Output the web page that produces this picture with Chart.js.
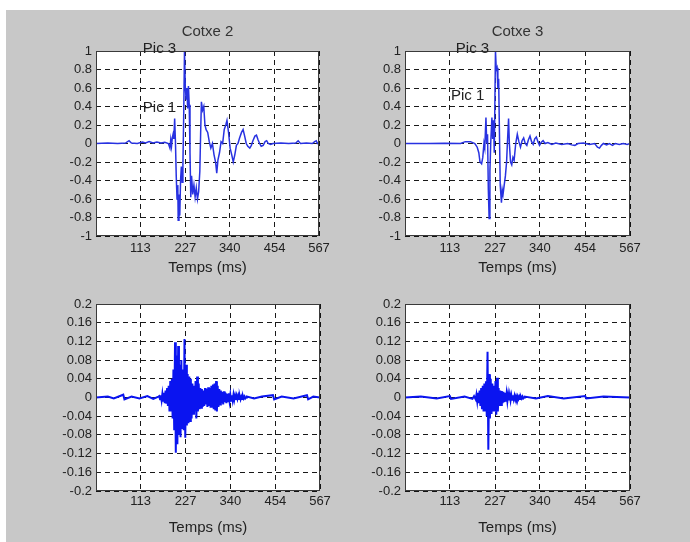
<!DOCTYPE html>
<html>
<head>
<meta charset="utf-8">
<script src="https://cdn.jsdelivr.net/npm/chart.js@4.4.1/dist/chart.umd.min.js"></script>
<style>
  html, body { margin: 0; padding: 0; background: #fff; }
  #fig { position: relative; width: 690px; height: 542px; overflow: hidden; }
  #bg { position: absolute; left: 6px; top: 10px; right: 0; bottom: 0; background: #c8c8c8; }
  canvas { position: absolute; }
</style>
</head>
<body>
<div id="fig">
  <div id="bg"></div>
  <canvas id="c2top" width="345" height="270" style="left:0;top:10px"></canvas>
  <canvas id="c3top" width="345" height="270" style="left:345px;top:10px"></canvas>
  <canvas id="c2bot" width="345" height="262" style="left:0;top:280px"></canvas>
  <canvas id="c3bot" width="345" height="262" style="left:345px;top:280px"></canvas>
</div>
<script>
// axis ticks
const xTicks = [113, 227, 340, 454, 567];
const yTicksSignal = [-1, -0.8, -0.6, -0.4, -0.2, 0, 0.2, 0.4, 0.6, 0.8, 1];
const yTicksDetail = [-0.2, -0.16, -0.12, -0.08, -0.04, 0, 0.04, 0.08, 0.12, 0.16, 0.2];

// Cotxe 2, upper plot: [temps ms, amplitude]
const cotxe2Signal = [
  [0,0],[30,0.005],[55,0],[75,0.005],[84,0.03],[90,0.005],[105,0],[118,0.015],[126,0.005],
  [135,0.02],[145,0.005],[155,0.015],[165,0.005],[175,0.012],[184,0],[188,-0.05],[190,0.04],
  [192,-0.03],[194,0.06],[196,0.1],[198,0.05],[200,0.27],[202,0.02],[204,-0.35],[206,-0.6],
  [208,-0.45],[209,-0.83],[211,-0.55],[213,-0.78],[215,-0.4],[217,-0.25],[219,-0.42],[221,-0.23],
  [223,0.3],[225,1.0],[227,0.62],[229,0.48],[231,0.6],[233,0.38],[235,0.62],[237,0.42],[239,-0.1],
  [241,-0.58],[243,-0.35],[246,-0.55],[249,-0.45],[252,-0.58],[255,-0.48],[258,-0.6],[261,-0.52],
  [264,-0.3],[266,0.1],[268,0.45],[271,0.36],[274,0.4],[277,0.2],[280,0.15],[284,0.12],[288,0.02],
  [292,-0.05],[296,0.0],[300,-0.12],[304,-0.2],[307,-0.32],[310,-0.18],[314,-0.1],[318,0.02],
  [322,0.0],[326,0.15],[330,0.2],[333,0.25],[337,0.12],[341,-0.05],[345,-0.12],[349,-0.2],
  [353,-0.12],[357,-0.02],[361,0.0],[365,0.06],[370,0.12],[374,0.15],[378,0.08],[382,0.0],
  [386,-0.03],[391,-0.05],[395,-0.02],[399,0.03],[404,0.08],[408,0.09],[412,0.04],[416,0.0],
  [420,-0.03],[425,-0.02],[430,0.02],[434,0.03],[438,0.0],[444,-0.01],[450,0.0],[470,0.005],
  [490,0],[508,0.005],[514,0.03],[520,0.0],[535,0.005],[550,0],[556,0.02],[560,0.03],[563,0.0],
  [567,0.005]
];

// Cotxe 3, upper plot
const cotxe3Signal = [
  [0,0],[60,0],[100,0.003],[140,0],[152,0.02],[165,0.02],[176,0.0],[182,-0.04],[186,-0.1],
  [189,-0.2],[193,-0.22],[196,-0.15],[199,0.0],[201,-0.05],[204,0.28],[206,0.0],[208,0.1],
  [210,-0.5],[212,-0.81],[214,-0.3],[216,0.0],[219,0.28],[221,0.05],[223,0.25],[225,-0.1],
  [228,1.0],[230,0.8],[232,0.82],[234,0.6],[236,0.7],[238,0.12],[240,-0.45],[243,-0.64],
  [245,-0.5],[247,-0.55],[250,-0.45],[253,-0.35],[256,-0.2],[258,0.0],[261,0.27],[263,0.0],
  [266,-0.2],[269,-0.23],[272,-0.15],[275,-0.18],[279,0.0],[283,0.1],[287,0.02],[291,-0.04],
  [295,0.03],[299,0.06],[303,0.0],[307,-0.02],[311,0.04],[315,0.08],[319,0.02],[323,-0.01],
  [327,0.05],[331,0.07],[335,0.02],[339,-0.02],[343,0.01],[348,0.03],[353,0.0],[360,0.01],
  [370,-0.01],[380,0.005],[395,-0.01],[410,0.0],[420,-0.015],[428,-0.02],[436,0.0],[450,0.005],
  [465,-0.01],[478,0.0],[485,-0.04],[490,-0.05],[495,-0.02],[500,0.0],[508,-0.015],[515,0.0],
  [523,-0.02],[530,0.0],[540,-0.01],[550,0.0],[560,-0.01],[567,0]
];

// Cotxe 2, lower plot: quiet parts + burst sampled every 2 ms from 160 ms
const cotxe2DetailBefore = [
  [0,0],[30,0.002],[45,-0.002],[69,0.006],[72,-0.004],[90,0.002],[110,-0.002],[130,0.003],
  [145,-0.003],[158,0.002]
];
const cotxe2BurstStart = 160;
const cotxe2Burst = [
  0.003,-0.004,0.005,-0.006,0.008,-0.007,0.01,-0.012,0.015,-0.013,
  0.02,-0.018,0.025,-0.03,0.035,-0.028,0.04,-0.045,0.06,-0.07,
  0.118,-0.118,0.09,-0.1,0.11,-0.08,0.07,-0.085,0.08,-0.065,
  0.06,-0.07,0.125,-0.086,0.07,-0.06,0.05,-0.055,0.045,-0.05,
  0.04,-0.045,0.03,-0.035,0.025,-0.03,0.035,-0.045,0.045,-0.03,
  0.03,-0.025,0.02,-0.022,0.018,-0.02,0.015,-0.018,0.02,-0.015,
  0.018,-0.02,0.022,-0.018,0.02,-0.022,0.025,-0.02,0.028,-0.025,
  0.03,-0.028,0.035,-0.03,0.025,-0.02,0.018,-0.015,0.015,-0.012,
  0.012,-0.015,0.013,-0.01,0.01,-0.012,0.008,-0.01,0.009,-0.007,
  0.006,-0.007,0.005,-0.006,0.006,-0.005,0.004,-0.005,0.004,-0.003,
  0.004,-0.003,0.003,-0.004,0.002,-0.003,0.003,-0.002,0.002,-0.002,
  0
];
const cotxe2DetailAfter = [
  [382,0.002],[400,-0.002],[420,0.002],[448,0.005],[451,-0.004],[470,0.002],[500,-0.002],
  [534,0.005],[537,-0.004],[550,0.002],[567,0]
];

// Cotxe 3, lower plot
const cotxe3DetailBefore = [
  [0,0],[40,0.002],[80,-0.002],[113,0.003],[116,-0.003],[150,0.002],[170,-0.003],[174,0.003]
];
const cotxe3BurstStart = 176;
const cotxe3Burst = [
  0.003,-0.004,0.006,-0.008,0.01,-0.012,0.015,-0.018,0.02,-0.025,
  0.025,-0.03,0.03,-0.028,0.035,-0.04,0.098,-0.112,0.05,-0.045,
  0.04,-0.035,0.03,-0.028,0.025,-0.03,0.035,-0.037,0.042,-0.03,
  0.02,-0.018,0.015,-0.016,0.014,-0.012,0.012,-0.01,0.01,-0.009,
  0.008,-0.008,0.007,-0.006,0.006,-0.006,0.005,-0.005,0.005,-0.004,
  0.004,-0.004,0.003,-0.003,0.003,-0.003,0.002,-0.003,0.002,-0.002,
  0.002,-0.002,0
];
const cotxe3DetailAfter = [
  [302,0.002],[330,-0.002],[360,0.003],[400,-0.002],[454,0.003],[457,-0.002],[500,0.002],[567,0]
];

// peak labels [text, temps, amplitude]
const cotxe2Notes = [['Pic 3', 119, 1.02], ['Pic 1', 119, 0.38]];
const cotxe3Notes = [['Pic 3', 128, 1.02], ['Pic 1', 116, 0.51]];

const FONT = '"Liberation Sans", Arial, Helvetica, sans-serif';
const BURST_STEP = 2;

function pairs(list) {
  return list.map(p => ({ x: p[0], y: p[1] }));
}

function burstPoints(start, values) {
  return values.map((v, i) => ({ x: start + i * BURST_STEP, y: v }));
}

const figureBox = {
  id: 'figureBox',
  beforeDraw(chart) {
    const { ctx, chartArea: a } = chart;
    ctx.save();
    ctx.fillStyle = '#fff';
    ctx.fillRect(a.left, a.top, a.right - a.left, a.bottom - a.top);
    ctx.restore();
  },
  afterDraw(chart, args, opts) {
    const { ctx, chartArea: a, scales } = chart;
    ctx.save();
    ctx.strokeStyle = '#3a3a3a';
    ctx.lineWidth = 1;
    ctx.strokeRect(a.left + 0.5, a.top + 0.5, a.right - a.left - 1, a.bottom - a.top - 1);
    ctx.font = '15px ' + FONT;
    ctx.fillStyle = '#222';
    ctx.textAlign = 'left';
    ctx.textBaseline = 'middle';
    (opts.notes || []).forEach(n => {
      ctx.fillText(n[0], scales.x.getPixelForValue(n[1]), scales.y.getPixelForValue(n[2]));
    });
    ctx.restore();
  }
};

function makeChart(id, cfg) {
  return new Chart(document.getElementById(id), {
    type: 'line',
    data: {
      datasets: [{
        data: cfg.points,
        borderColor: cfg.color,
        borderWidth: cfg.lineWidth,
        pointRadius: 0,
        tension: 0,
        fill: false
      }]
    },
    options: {
      responsive: false,
      animation: false,
      events: [],
      layout: { padding: { left: 0, right: cfg.padRight, top: cfg.padTop, bottom: 0 } },
      plugins: {
        legend: { display: false },
        tooltip: { enabled: false },
        title: cfg.title ? {
          display: true,
          fullSize: false,
          text: cfg.title,
          color: '#333',
          font: { family: FONT, size: 15, weight: 'normal' },
          padding: { top: 13, bottom: 10 }
        } : { display: false },
        figureBox: { notes: cfg.notes }
      },
      scales: {
        x: {
          type: 'linear',
          min: 0,
          max: 567,
          afterBuildTicks: s => { s.ticks = xTicks.map(v => ({ value: v })); },
          afterFit: s => { s.height = cfg.xHeight; },
          ticks: {
            color: '#222',
            font: { family: FONT, size: 13 },
            padding: cfg.xTickPad,
            maxRotation: 0,
            autoSkip: false,
            callback: v => String(v)
          },
          grid: { color: 'rgba(0,0,0,0.9)', lineWidth: 1, drawTicks: false },
          border: { display: false, dash: [5, 4] },
          title: {
            display: true,
            text: 'Temps (ms)',
            color: '#222',
            font: { family: FONT, size: 15 },
            padding: { top: 0, bottom: cfg.xTitlePad }
          }
        },
        y: {
          min: cfg.yTicks[0],
          max: cfg.yTicks[cfg.yTicks.length - 1],
          afterBuildTicks: s => { s.ticks = cfg.yTicks.map(v => ({ value: v })); },
          afterFit: s => { s.width = cfg.yWidth; },
          ticks: {
            color: '#222',
            font: { family: FONT, size: 13 },
            padding: 4,
            autoSkip: false,
            callback: v => String(+v.toFixed(2))
          },
          grid: { color: 'rgba(0,0,0,0.9)', lineWidth: 1, drawTicks: false },
          border: { display: false, dash: [5, 4] }
        }
      }
    },
    plugins: [figureBox]
  });
}

makeChart('c2top', {
  points: pairs(cotxe2Signal), color: 'rgb(40,50,225)', lineWidth: 1.5,
  title: 'Cotxe 2', notes: cotxe2Notes, yTicks: yTicksSignal,
  yWidth: 96, padRight: 26, padTop: 0, xHeight: 44, xTickPad: 5, xTitlePad: 3
});
makeChart('c3top', {
  points: pairs(cotxe3Signal), color: 'rgb(40,50,225)', lineWidth: 1.5,
  title: 'Cotxe 3', notes: cotxe3Notes, yTicks: yTicksSignal,
  yWidth: 60, padRight: 60, padTop: 0, xHeight: 44, xTickPad: 5, xTitlePad: 3
});
makeChart('c2bot', {
  points: pairs(cotxe2DetailBefore).concat(burstPoints(cotxe2BurstStart, cotxe2Burst), pairs(cotxe2DetailAfter)),
  color: 'rgb(10,20,240)', lineWidth: 2,
  title: null, notes: [], yTicks: yTicksDetail,
  yWidth: 96, padRight: 25, padTop: 24, xHeight: 51, xTickPad: 3, xTitlePad: 5
});
makeChart('c3bot', {
  points: pairs(cotxe3DetailBefore).concat(burstPoints(cotxe3BurstStart, cotxe3Burst), pairs(cotxe3DetailAfter)),
  color: 'rgb(10,20,240)', lineWidth: 2,
  title: null, notes: [], yTicks: yTicksDetail,
  yWidth: 60, padRight: 60, padTop: 24, xHeight: 51, xTickPad: 3, xTitlePad: 5
});
</script>
</body>
</html>
